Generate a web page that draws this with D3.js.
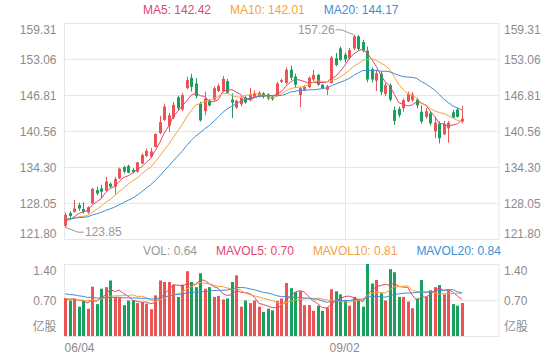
<!DOCTYPE html>
<html><head><meta charset="utf-8">
<script src="https://cdn.jsdelivr.net/npm/d3@7"></script>
<style>
body{margin:0;background:#fff;}
svg{display:block;font-family:"Liberation Sans",Arial,sans-serif;}
</style>
</head><body>
<svg id="c" width="560" height="360"></svg>
<script>
// ---------------- data ----------------
const dates = [
"06/04","06/05","06/08","06/09","06/10","06/11","06/12","06/15","06/16","06/17","06/18","06/19","06/22","06/23","06/24","06/29","06/30",
"07/01","07/02","07/03","07/06","07/07","07/08","07/09","07/10","07/13","07/14","07/15","07/16","07/17","07/20","07/21","07/22","07/23","07/24","07/27","07/28","07/29","07/30","07/31",
"08/03","08/04","08/05","08/06","08/07","08/10","08/11","08/12","08/13","08/14","08/17","08/18","08/19","08/20","08/21","08/24","08/25","08/26","08/27","08/28","08/31",
"09/01","09/02","09/03","09/04","09/07","09/08","09/09","09/10","09/11","09/14","09/15","09/16","09/17","09/18","09/21","09/22","09/23","09/24","09/25","09/28","09/29","09/30",
"10/09","10/12","10/13","10/14","10/15","10/16"];
const open  = [124.1,126.3,126.5,127.7,127.0,126.4,128.0,130.3,130.6,130.2,131.4,130.9,132.3,134.3,134.5,133.8,133.5,134.9,136.2,136.1,
137.8,140.2,142.5,141.5,142.9,146.4,144.3,148.0,149.8,148.8,145.3,144.0,145.9,146.0,147.5,147.5,149.2,146.0,144.6,145.2,
146.4,145.9,146.5,146.6,147.1,146.9,146.5,146.8,149.1,148.9,151.2,150.0,146.8,147.7,148.2,149.5,150.3,148.6,147.7,148.9,
153.2,154.9,153.8,153.2,154.9,157.0,156.0,154.5,151.3,149.3,150.5,147.0,148.5,144.2,144.4,144.5,145.7,145.9,146.0,143.9,
143.0,143.6,140.5,141.8,140.0,141.0,143.8,144.3,142.2];
const high  = [126.4,126.6,128.6,128.1,128.2,127.5,130.7,130.9,131.2,132.6,131.6,132.6,134.2,134.5,134.7,134.1,135.2,136.7,137.5,137.6,
140.2,143.2,145.3,143.7,145.6,146.7,147.2,150.0,150.5,149.7,145.6,147.4,146.1,148.3,148.8,150.1,149.6,147.1,146.0,146.8,
146.6,148.0,147.6,147.5,147.3,147.1,146.8,149.1,149.6,151.6,151.9,150.5,148.2,148.5,150.0,151.2,150.5,148.7,148.6,153.6,
154.1,155.2,154.2,155.0,157.26,157.2,156.4,155.2,151.6,151.2,150.9,149.0,148.8,144.8,144.8,146.2,147.4,147.3,146.3,145.0,
144.5,143.9,143.0,142.2,142.3,142.3,144.2,144.6,144.9];
const low   = [123.85,125.1,126.4,126.7,126.2,126.2,127.9,129.4,128.9,130.0,130.6,129.5,132.2,133.2,133.2,133.2,133.3,134.8,136.1,135.9,
137.7,140.0,142.3,140.4,142.6,144.2,144.0,147.8,147.4,146.2,142.2,143.3,144.8,145.8,147.3,147.3,147.0,142.8,144.4,144.8,
145.3,145.7,146.3,146.4,146.2,145.9,145.8,146.6,148.9,148.6,149.4,148.0,144.7,147.5,148.0,149.2,148.4,147.8,146.8,148.8,
151.8,152.7,152.5,153.0,154.6,154.5,154.2,149.0,149.0,147.5,146.8,146.6,145.7,141.6,142.9,143.9,145.6,145.6,144.5,141.8,
142.7,141.5,139.3,138.4,139.8,138.5,142.7,142.9,141.9];
const close = [126.0,125.8,127.1,127.1,126.5,127.3,130.5,129.7,130.0,131.8,130.9,132.2,134.0,133.5,133.3,133.4,135.1,136.4,137.1,137.0,
140.0,142.1,144.8,143.3,145.1,144.5,146.8,149.4,148.2,146.6,142.4,146.2,145.0,148.0,148.4,149.6,147.2,145.5,145.8,146.3,
145.5,146.9,147.1,147.2,146.5,146.2,146.1,148.8,149.4,151.2,149.8,148.6,148.0,148.2,149.8,150.3,148.6,148.0,148.3,153.3,
152.0,152.9,153.0,154.6,157.0,154.8,154.5,149.5,149.5,150.6,147.3,148.5,146.0,142.3,143.3,145.9,147.0,146.9,145.0,142.2,
144.0,141.9,142.0,139.3,141.8,142.0,142.9,143.0,142.7];
// volume, 亿股
const volume = [0.74,0.69,0.73,0.57,0.69,0.53,0.96,0.62,0.92,0.95,1.08,0.76,0.74,0.60,0.69,0.69,0.64,0.66,0.63,0.52,
0.79,1.08,1.05,1.05,1.00,0.76,1.00,1.26,1.05,0.95,1.22,0.92,0.95,0.76,0.78,0.71,0.73,1.05,1.18,0.57,
0.69,0.64,0.69,0.57,0.47,0.53,0.50,0.68,0.73,1.03,0.93,0.86,0.87,0.60,0.60,0.49,0.59,0.49,0.55,0.91,
0.87,0.81,0.70,0.59,0.76,0.70,0.57,1.40,1.02,1.09,0.83,0.69,1.30,1.24,0.76,0.76,0.67,0.54,0.73,1.09,
0.76,0.89,0.95,0.99,0.81,0.89,0.62,0.59,0.64];
// closes / volumes of the 19 sessions before the window (estimated from where the average lines start)
const priorClose  = [124.6,125.3,124.9,125.6,125.2,124.7,125.4,125.0,124.8,125.5,126.2,125.9,125.4,125.7,125.8,125.1,124.6,124.3,125.0];
const priorVolume = [0.95,0.88,0.92,0.90,0.96,0.85,0.93,0.89,0.91,0.91,0.78,0.72,0.80,0.70,0.75,0.68,0.72,0.66,0.75];

const priceTicks = [121.80,128.05,134.30,140.56,146.81,153.06,159.31];
const volTicks = [0.70,1.40];
const volUnit = "亿股";
const dateTicks = ["06/04","09/02"];
const maPeriods = [5,10,20];
const maNames = ["MA5","MA10","MA20"];
const maLegendValues = [142.42,142.01,144.17];
const volNames = ["VOL","MAVOL5","MAVOL10","MAVOL20"];
const volLegendValues = [0.64,0.70,0.81,0.84];

// ---------------- style ----------------
const UP = "#eb5454", DOWN = "#1aa05e";
const maColors = ["#e0466e","#f5a23c","#3d8fd4"];
const GRID = "#e6e6e6", LABEL = "#8c8c8c";
const L = 64.5, R = 499, PT = 23, PB = 239, VT = 264, VB = 336;

const svg = d3.select("#c");
const N = close.length;
const x = d3.scaleLinear().domain([0, N - 1]).range([65, 461.9]);
const yP = d3.scaleLinear().domain([priceTicks[0], priceTicks[priceTicks.length-1]]).range([PB, PT]);
const yV = d3.scaleLinear().domain([0, volTicks[volTicks.length-1]]).range([VB, VT]);

function movingAvg(series, prior, n){
  const all = prior.concat(series);
  return series.map((_, i) => d3.mean(all.slice(prior.length + i - n + 1, prior.length + i + 1)));
}

// ---------------- grid ----------------
const g = svg.append("g");
g.selectAll(".hp").data(priceTicks).join("line")
  .attr("x1", L).attr("x2", R)
  .attr("y1", d => Math.round(yP(d)) + 0.5).attr("y2", d => Math.round(yP(d)) + 0.5)
  .attr("stroke", GRID);
g.selectAll(".hv").data([0].concat(volTicks)).join("line")
  .attr("x1", L).attr("x2", R)
  .attr("y1", d => Math.round(yV(d)) + 0.5).attr("y2", d => Math.round(yV(d)) + 0.5)
  .attr("stroke", GRID);
[[PT, PB], [VT, VB]].forEach(([t, b]) => {
  [L, R].forEach(xx => g.append("line").attr("x1", xx).attr("x2", xx).attr("y1", t).attr("y2", b + 0.5).attr("stroke", GRID));
  dateTicks.slice(1).forEach(dt => {
    const xi = Math.round(x(dates.indexOf(dt))) + 0.5;
    g.append("line").attr("x1", xi).attr("x2", xi).attr("y1", t).attr("y2", b).attr("stroke", GRID);
  });
});

// ---------------- axes labels ----------------
function styleAxis(sel){
  sel.select(".domain").remove();
  sel.selectAll("text").attr("fill", LABEL).style("font-size", "12px").style("font-family", '"Liberation Sans",Arial,sans-serif');
}
const fmtP = d => d.toFixed(2);
[["left", L, d3.axisLeft, 8], ["right", R, d3.axisRight, 5]].forEach(([side, xx, ax, pad]) => {
  const a = svg.append("g").attr("transform", `translate(${xx},0)`)
    .call(ax(yP).tickValues(priceTicks).tickFormat(fmtP).tickSize(0).tickPadding(pad));
  styleAxis(a);
  a.selectAll("text").attr("dy", (d, i) => i === 0 ? "-0.15em" : (i === priceTicks.length - 1 ? "0.85em" : "0.35em"));
  const v = svg.append("g").attr("transform", `translate(${xx},0)`)
    .call(ax(yV).tickValues(volTicks).tickFormat(d => d.toFixed(2)).tickSize(0).tickPadding(pad));
  styleAxis(v);
  v.selectAll("text").attr("dy", (d, i) => i === volTicks.length - 1 ? "0.85em" : "0.35em");
  svg.append("text").attr("x", side === "left" ? xx - pad : xx + pad).attr("y", VB - 9).attr("dy", "0.35em")
    .attr("text-anchor", side === "left" ? "end" : "start")
    .attr("fill", LABEL).style("font-size", "12px").style("font-family", '"Noto Sans CJK SC",sans-serif')
    .text(volUnit);
});
svg.selectAll(".dt").data(dateTicks).join("text")
  .attr("x", (d, i) => i === 0 ? L : x(dates.indexOf(d)))
  .attr("y", 348).attr("dy", "0.35em")
  .attr("text-anchor", (d, i) => i === 0 ? "start" : "middle")
  .attr("fill", LABEL).style("font-size", "12px").text(d => d);

// ---------------- candles ----------------
const idx = d3.range(N);
const isUp = i => close[i] >= open[i];
const cg = svg.append("g");
cg.selectAll(".wick").data(idx).join("line")
  .attr("x1", i => Math.round(x(i)) + 0.5).attr("x2", i => Math.round(x(i)) + 0.5)
  .attr("y1", i => yP(high[i])).attr("y2", i => yP(low[i]))
  .attr("stroke", i => isUp(i) ? UP : DOWN);
cg.selectAll(".body").data(idx).join("rect")
  .attr("x", i => Math.round(x(i)) - 1).attr("width", 3)
  .attr("y", i => yP(Math.max(open[i], close[i])))
  .attr("height", i => Math.max(1, Math.abs(yP(open[i]) - yP(close[i]))))
  .attr("fill", i => isUp(i) ? UP : DOWN);

// ---------------- MA lines ----------------
const lineP = d3.line().x((d, i) => x(i)).y(d => yP(d));
maPeriods.forEach((p, k) => {
  svg.append("path").datum(movingAvg(close, priorClose, p))
    .attr("d", lineP).attr("fill", "none").attr("stroke", maColors[k]).attr("stroke-width", 1);
});

// ---------------- volume ----------------
svg.append("g").selectAll("rect").data(idx).join("rect")
  .attr("x", i => Math.round(x(i)) - 1).attr("width", 3)
  .attr("y", i => yV(volume[i])).attr("height", i => VB - yV(volume[i]))
  .attr("fill", i => isUp(i) ? UP : DOWN);
const lineV = d3.line().x((d, i) => x(i)).y(d => yV(d));
maPeriods.forEach((p, k) => {
  svg.append("path").datum(movingAvg(volume, priorVolume, p))
    .attr("d", lineV).attr("fill", "none").attr("stroke", maColors[k]).attr("stroke-width", 1);
});

// ---------------- max / min markers ----------------
const iMax = d3.maxIndex(high), iMin = d3.minIndex(low);
const mx = x(iMax), my = yP(high[iMax]);
svg.append("polyline").attr("points", `${mx},${my} ${mx-12},${my-5} ${mx-18},${my-5}`)
  .attr("fill", "none").attr("stroke", "#999");
svg.append("text").attr("x", mx - 19).attr("y", my - 5).attr("dy", "0.35em").attr("text-anchor", "end")
  .attr("fill", "#999").style("font-size", "12px").text(high[iMax].toFixed(2));
const nx = x(iMin), ny = yP(low[iMin]);
svg.append("polyline").attr("points", `${nx},${ny} ${nx+13},${ny+5} ${nx+19},${ny+5}`)
  .attr("fill", "none").attr("stroke", "#999");
svg.append("text").attr("x", nx + 20).attr("y", ny + 5).attr("dy", "0.35em")
  .attr("fill", "#999").style("font-size", "12px").text(low[iMin].toFixed(2));

// ---------------- legends ----------------
function legend(names, values, colors, y, fmt){
  let cx = 143;
  names.forEach((n, k) => {
    const t = svg.append("text").attr("x", cx).attr("y", y).attr("dy", "0.35em")
      .attr("fill", colors[k]).style("font-size", "12px").text(`${n}: ${fmt(values[k])}`);
    cx += t.node().getComputedTextLength() + 19;
  });
}
legend(maNames, maLegendValues, maColors, 10, d => d.toFixed(2));
legend(volNames, volLegendValues, ["#999"].concat(maColors), 251, d => d.toFixed(2));
</script>
</body></html>
